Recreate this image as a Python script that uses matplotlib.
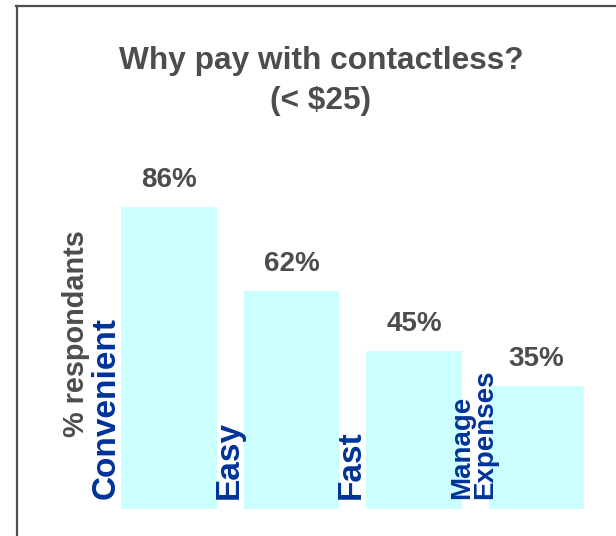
import matplotlib
matplotlib.use("Agg")
import matplotlib.pyplot as plt
from matplotlib.lines import Line2D

plt.rcParams["font.family"] = ["Liberation Sans", "DejaVu Sans"]
plt.rcParams["font.weight"] = "bold"

# ---- data ----
categories = ["Convenient", "Easy", "Fast", "Manage\nExpenses"]
pct = [86, 62, 45, 35]
value_labels = ["86%", "62%", "45%", "35%"]
cat_sizes = [24, 24, 24, 20]

GRAY = "#4d4d4d"
BLUE = "#003399"
BAR = "#ccffff"

fig = plt.figure(figsize=(6.16, 5.36), dpi=100)
ax = fig.add_axes([0.175, 0.0504, 0.7955, 0.655])
ax.set_xlim(-0.5, 3.5)
ax.set_ylim(0, 100)
ax.axis("off")

xs = range(len(pct))
ax.bar(xs, pct, width=0.78, color=BAR, edgecolor="none")

for x, v, lab in zip(xs, pct, value_labels):
    ax.annotate(lab, (x, v), xytext=(0, 14.5), textcoords="offset points",
                ha="center", va="baseline", fontsize=20, color=GRAY,
                fontweight="bold")

# category names sit rotated just left of each bar
for x, name, fs in zip(xs, categories, cat_sizes):
    ax.text(x - 0.51, 2.8, name, rotation=90, ha="center", va="bottom",
            multialignment="left", fontsize=fs, color=BLUE,
            fontweight="bold", linespacing=0.85)

ax.text(-0.76, 20.5, "% respondants", rotation=90, ha="center",
        va="bottom", fontsize=20.8, color=GRAY, fontweight="bold")

# title
fig.text(0.521, 1 - 69 / 536, "Why pay with contactless?", ha="center",
         va="baseline", fontsize=22.8, color=GRAY, fontweight="bold")
fig.text(0.521, 1 - 109 / 536, "(< $25)", ha="center", va="baseline",
         fontsize=22.8, color=GRAY, fontweight="bold")

# frame on top and left edge
fig.add_artist(Line2D([16 / 616, 1], [1 - 6 / 536] * 2, color=GRAY, lw=1.6,
                      transform=fig.transFigure))
fig.add_artist(Line2D([17 / 616] * 2, [0, 1 - 6 / 536], color=GRAY, lw=1.6,
                      transform=fig.transFigure))

fig.savefig("out.png", dpi=100)
